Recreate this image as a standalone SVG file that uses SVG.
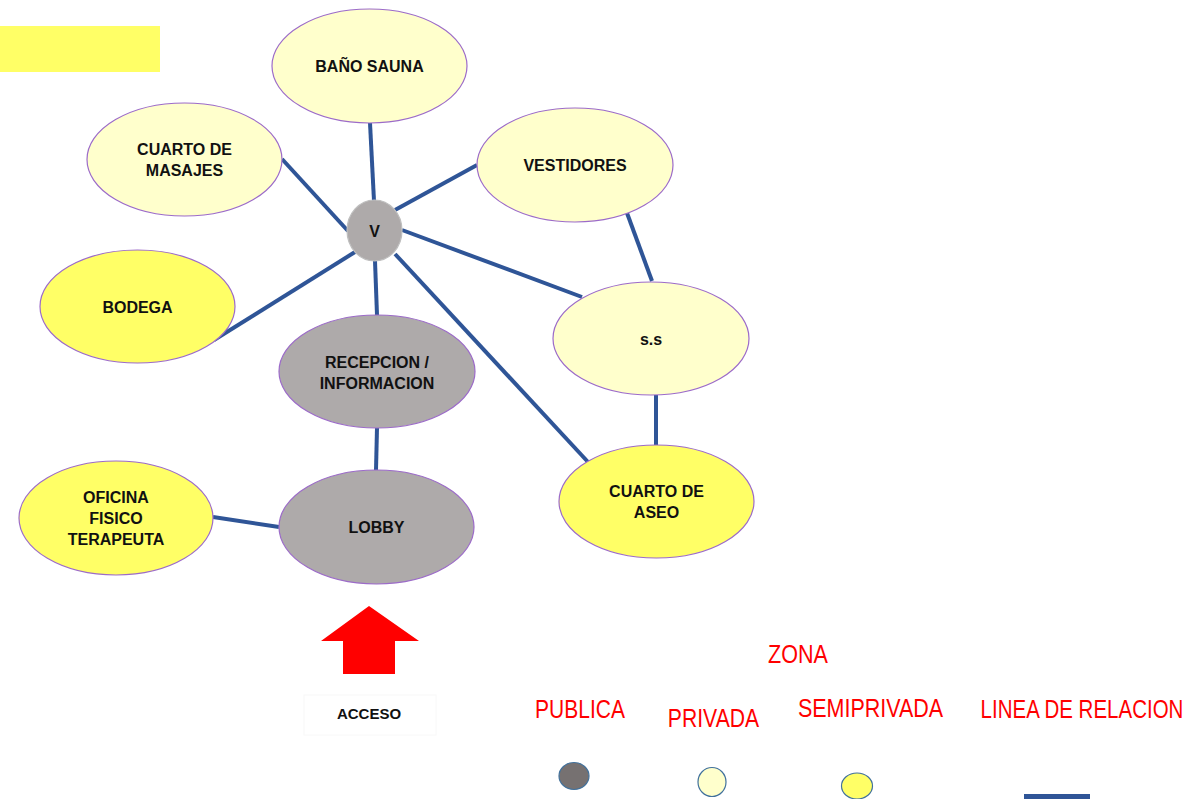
<svg xmlns="http://www.w3.org/2000/svg" width="1193" height="799" viewBox="0 0 1193 799">
<style>
.n{stroke:#9C6BC9;stroke-width:1.2}
.ly{fill:#FFFFCC}
.yy{fill:#FFFF66}
.gy{fill:#AEAAAA}
.t{font-family:"Liberation Sans",Arial,sans-serif;font-weight:bold;font-size:16px;fill:#111;text-anchor:middle}
.c line{stroke:#2F5597;stroke-width:4}
.r{font-family:"Liberation Sans",Arial,sans-serif;font-size:25px;fill:#FF0000;text-anchor:middle}
</style>
<rect width="1193" height="799" fill="#fff"/>
<rect x="0" y="26" width="160" height="46" fill="#FFFF66"/>
<g class="c" id="connectors">
<line x1="370" y1="123" x2="374" y2="201"/>
<line x1="282" y1="159" x2="348" y2="231"/>
<line x1="477" y1="165" x2="395" y2="210"/>
<line x1="214" y1="340" x2="355" y2="252"/>
<line x1="375" y1="261" x2="377" y2="315"/>
<line x1="402" y1="230" x2="582" y2="297"/>
<line x1="395" y1="254" x2="588" y2="462"/>
<line x1="627" y1="213" x2="652" y2="281"/>
<line x1="656" y1="395" x2="656" y2="445"/>
<line x1="377" y1="428" x2="376" y2="470"/>
<line x1="213" y1="517" x2="279" y2="527"/>
</g>
<g id="sauna"><ellipse class="n ly" cx="369.5" cy="66" rx="97.5" ry="57"/><text class="t" x="369.5" y="72">BAÑO SAUNA</text></g>
<g id="masajes"><ellipse class="n ly" cx="184.5" cy="159.5" rx="97.5" ry="56.5"/><text class="t" x="184.5" y="155">CUARTO DE</text><text class="t" x="184.5" y="176">MASAJES</text></g>
<g id="v"><ellipse class="n gy" cx="374.5" cy="230.5" rx="27.5" ry="30.5" style="stroke:#BFBFBF"/><text class="t" x="374.5" y="237">V</text></g>
<g id="bodega"><ellipse class="n yy" cx="137.5" cy="306.5" rx="97.5" ry="56.5"/><text class="t" x="137.5" y="313">BODEGA</text></g>
<g id="vestidores"><ellipse class="n ly" cx="575" cy="165" rx="98" ry="57"/><text class="t" x="575" y="171">VESTIDORES</text></g>
<g id="ss"><ellipse class="n ly" cx="651" cy="338.5" rx="98" ry="56.5"/><text class="t" x="651" y="345">s.s</text></g>
<g id="aseo"><ellipse class="n yy" cx="656.5" cy="501.5" rx="97.5" ry="56.5"/><text class="t" x="656.5" y="497">CUARTO DE</text><text class="t" x="656.5" y="518">ASEO</text></g>
<g id="recepcion"><ellipse class="n gy" cx="377" cy="371.5" rx="98" ry="56.5"/><text class="t" x="377" y="368">RECEPCION /</text><text class="t" x="377" y="389">INFORMACION</text></g>
<g id="lobby"><ellipse class="n gy" cx="376.5" cy="527" rx="97.5" ry="57"/><text class="t" x="376.5" y="533">LOBBY</text></g>
<g id="oficina"><ellipse class="n yy" cx="116" cy="518" rx="97" ry="57"/><text class="t" x="116" y="503">OFICINA</text><text class="t" x="116" y="524">FISICO</text><text class="t" x="116" y="545">TERAPEUTA</text></g>
<g id="acceso">
<polygon points="369,606 419,641 395,641 395,674 343,674 343,641 321,641" fill="#FF0000"/>
<rect x="304" y="695" width="132" height="40" fill="#fff" stroke="#F8F8F8" stroke-width="1"/>
<text class="t" x="369" y="719" style="font-size:15px">ACCESO</text>
</g>
<g id="legend">
<text class="r" transform="translate(798,663) scale(0.863,1)">ZONA</text>
<text class="r" transform="translate(580,718) scale(0.841,1)">PUBLICA</text>
<text class="r" transform="translate(713.5,727) scale(0.847,1)">PRIVADA</text>
<text class="r" transform="translate(870.5,717) scale(0.86,1)">SEMIPRIVADA</text>
<text class="r" transform="translate(1082,718) scale(0.82,1)">LINEA DE RELACION</text>
<ellipse cx="574" cy="776" rx="15" ry="13.5" fill="#767171" stroke="#41719C" stroke-width="1.2"/>
<ellipse cx="712" cy="782" rx="14" ry="14.5" fill="#FFFFCC" stroke="#41719C" stroke-width="1.2"/>
<ellipse cx="857" cy="786" rx="15.5" ry="13" fill="#FFFF66" stroke="#41719C" stroke-width="1.2"/>
<rect x="1024" y="794" width="66" height="5" fill="#2F5597"/>
</g>
</svg>
